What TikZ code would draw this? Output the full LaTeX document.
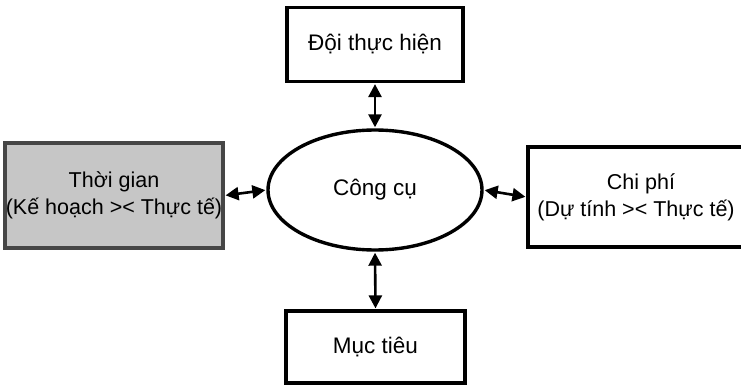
\documentclass[tikz,border=0pt]{standalone}
\usepackage{fontspec}
\setmainfont{Liberation Sans}
\usetikzlibrary{arrows.meta,shapes.geometric}

\tikzset{
  box/.style={draw, line width=3.2pt, minimum width=176pt, minimum height=74pt, inner xsep=0pt,
    align=center, font=\fontsize{22.5}{27}\selectfont},
  sidebox/.style={box, minimum width=218pt, font=\fontsize{21.5}{27}\selectfont},
  oval/.style={draw, ellipse, line width=3.4pt, minimum width=214pt, minimum height=120pt,
    font=\fontsize{22.5}{27}\selectfont},
  link/.style={line width=2.6pt, {Triangle[length=13pt,width=13pt]}-{Triangle[length=13pt,width=13pt]}, shorten <=1pt, shorten >=1pt}
}

\begin{document}
\begin{tikzpicture}[x=1pt,y=-1pt]
\useasboundingbox (0,0) rectangle (741,385);
\node[oval] (tool) at (375,190) {Công cụ}; % center
\node[box] (team) at (375,44.5) {Đội thực hiện}; % top
\node[box, minimum width=179pt, minimum height=72pt] (goal) at (375.5,347) {Mục tiêu}; % bottom
\node[sidebox, fill=gray!45, draw=gray!55!black, minimum height=105pt] (time) at (114,195.5)
  {Thời gian\\(Kế hoạch >< Thực tế)}; % left
\node[sidebox, minimum width=226pt, minimum height=100pt] (cost) at (641,197)
  {Chi phí\\(Dự tính >< Thực tế)\hspace*{10pt}}; % right, runs off the page
\draw[link] (team.south) -- (tool.north); % team
\draw[link] (tool.south) -- (goal.north); % goal
\draw[link] (time.east) -- (tool.west); % time
\draw[link] (tool.east) -- (cost.west); % cost
\end{tikzpicture}
\end{document}
